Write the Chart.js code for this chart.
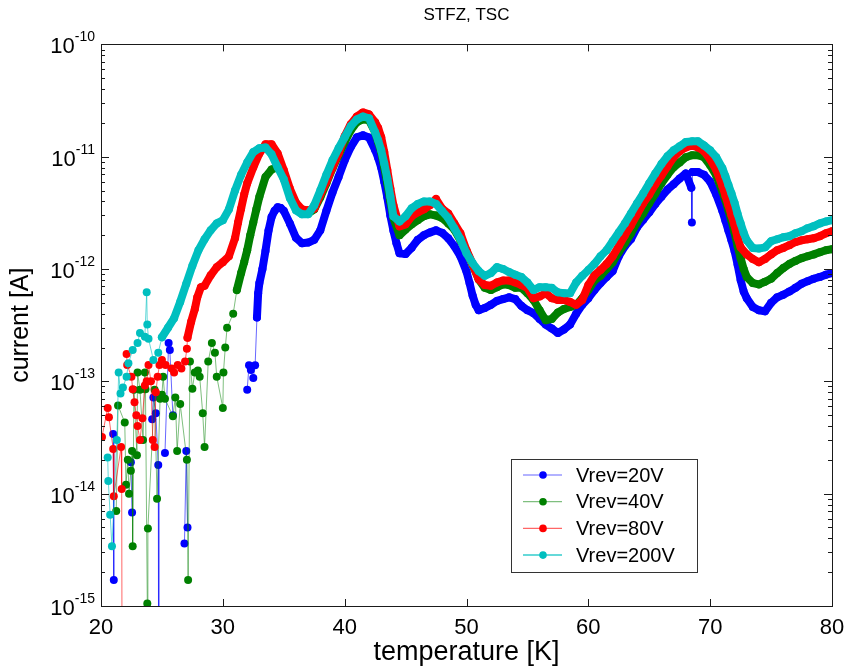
<!DOCTYPE html>
<html>
<head>
  <title>STFZ, TSC</title>
  <script src="https://cdn.jsdelivr.net/npm/chart.js"></script>
  <style>
    body { margin: 0; background: #fff; }
    #wrap { width: 846px; height: 666px; }
  </style>
</head>
<body>
  <div id="wrap"><canvas id="tscChart" width="846" height="666"></canvas></div>

  <script>
    // temperature [K] and current [A] for each reverse bias
    // null = no point (log of a non positive reading), 1e-17 = reading below the axis
    const tempV20 = [21.0, 21.05, 21.1, 22.45, 22.55, 22.6, 24.2, 24.3, 24.5, 24.7, 24.75, 24.8,
      25.25, 25.55, 25.65, 25.9, 26.2, 26.85, 27.0, 27.1, 27.2,
      32.0, 32.15, 32.3, 32.5, 32.65, 32.8, 32.9, 33.0, 33.25, 33.5, 33.75, 34.0, 34.25, 34.5, 34.75, 35.0, 35.5,
      36.0, 36.5, 37.0, 37.5, 38.0, 38.5, 39.0, 39.5, 40.0, 40.5, 41.0, 41.5, 42.0, 42.5, 42.75, 43.0, 43.25,
      43.5, 43.75, 44.0, 44.25, 44.5, 45.0, 45.5, 46.0, 46.5, 47.0, 47.5, 48.0, 48.5, 49.0, 49.5, 50.0, 50.25,
      50.5, 50.75, 51.0, 51.5, 52.0, 52.5, 53.0, 53.5, 54.0, 54.5, 55.0, 55.5, 56.0, 56.5, 57.0, 57.5, 58.0,
      58.5, 59.0, 59.5, 60.0, 60.5, 61.0, 61.5, 62.0, 62.5, 63.0, 63.5, 64.0, 64.5, 65.0, 65.5, 66.0, 66.5,
      67.0, 67.5, 68.0, 68.45, 68.5, 68.55, 69.0, 69.5, 70.0, 70.5, 71.0, 71.25, 71.5, 71.75, 72.0, 72.25,
      72.5, 72.75, 73.0, 73.5, 74.0, 74.5, 75.0, 75.5, 76.0, 76.5, 77.0, 77.5, 78.0, 78.5, 79.0, 79.5, 80.0];
    const currV20 = [3.4e-14, 1.7e-15, null, 1.9e-14, 6.8e-15, null, 4.6e-14, 7.2e-14, 5.2e-14, 1.8e-14, 1e-17, null,
      2.3e-14, 2.2e-13, 1.9e-13, 5.0e-14, null, 3.6e-15, 2.4e-14, 5.0e-15, null,
      8.4e-14, 1.39e-13, 1.26e-13, 1.07e-13, 1.39e-13, 3.7e-13, 6.1e-13, 7.5e-13, 1.0e-12, 1.45e-12, 2.2e-12,
      2.9e-12, 3.3e-12, 3.55e-12, 3.5e-12, 3.3e-12, 2.55e-12,
      1.9e-12, 1.7e-12, 1.72e-12, 1.82e-12, 2.21e-12, 3.3e-12, 4.8e-12, 6.6e-12, 9.3e-12, 1.22e-11, 1.49e-11,
      1.55e-11, 1.48e-11, 1.15e-11, 9.8e-12, 8.0e-12, 6.0e-12,
      4.35e-12, 3.0e-12, 2.2e-12, 1.7e-12, 1.38e-12, 1.36e-12, 1.55e-12, 1.82e-12, 2.0e-12, 2.12e-12, 2.21e-12,
      2.1e-12, 1.88e-12, 1.6e-12, 1.3e-12, 9.5e-13, 7.5e-13,
      5.8e-13, 4.8e-13, 4.3e-13, 4.5e-13, 4.8e-13, 5.2e-13, 5.4e-13, 5.6e-13, 5.4e-13, 4.7e-13, 4.3e-13, 4.05e-13,
      3.6e-13, 3.2e-13, 2.95e-13, 2.7e-13, 2.9e-13,
      3.2e-13, 4.0e-13, 4.8e-13, 5.5e-13, 6.5e-13, 7.5e-13, 8.5e-13, 9.6e-13, 1.3e-12, 1.6e-12, 1.85e-12, 2.35e-12,
      2.75e-12, 3.2e-12, 3.8e-12, 4.4e-12, 5.1e-12,
      5.7e-12, 6.4e-12, 7.1e-12, 5.3e-12, 2.6e-12, 7.3e-12, 7.3e-12, 6.9e-12, 6.0e-12, 4.6e-12, 3.3e-12, 2.7e-12,
      2.2e-12, 1.8e-12, 1.45e-12, 1.1e-12,
      8.0e-13, 6.3e-13, 5.5e-13, 4.6e-13, 4.3e-13, 4.2e-13, 5.0e-13, 5.6e-13, 5.9e-13, 6.3e-13, 6.8e-13, 7.4e-13,
      7.8e-13, 8.2e-13, 8.5e-13, 8.9e-13, 9.2e-13];

    const tempV40 = [21.25, 21.4, 21.95, 22.05, 22.2, 22.3, 22.45, 22.55, 22.6, 22.7, 22.95, 23.0, 23.2, 23.45,
      23.6, 23.65, 23.8, 23.85, 24.4, 24.6, 24.85, 25.0, 25.1, 25.25, 25.9, 26.1, 26.25, 26.5, 27.05, 27.15,
      27.3, 27.5, 27.7, 27.95, 28.1, 28.35, 28.5, 28.8, 29.1, 29.35, 29.5, 30.0, 30.05, 30.2, 30.35, 30.85, 31.15,
      31.5, 31.75, 32.0, 32.25, 32.5, 32.75, 33.0, 33.5, 34.0, 34.5, 35.0, 35.5, 36.0, 36.5, 37.0, 37.5, 38.0,
      38.5, 39.0, 39.5, 40.0, 40.5, 41.0, 41.5, 42.0, 42.5, 42.75, 43.0, 43.25, 43.5, 43.75, 44.0, 44.5, 45.0,
      45.5, 46.0, 46.5, 47.0, 47.5, 48.0, 48.5, 49.0, 49.5, 50.0, 50.5, 51.0, 51.5, 52.0, 52.5, 53.0, 53.5,
      54.0, 54.5, 55.0, 55.5, 56.0, 56.5, 57.0, 57.5, 58.0, 58.5, 59.0, 59.5, 60.0, 60.5, 61.0, 61.5, 62.0,
      62.5, 63.0, 63.5, 64.0, 64.5, 65.0, 65.5, 66.0, 66.5, 67.0, 67.5, 68.0, 68.5, 69.0, 69.5, 70.0, 70.5,
      71.0, 71.25, 71.5, 71.75, 72.0, 72.25, 72.5, 72.75, 73.0, 73.5, 74.0, 74.5, 75.0, 75.5, 76.0, 76.5,
      77.0, 77.5, 78.0, 78.5, 79.0, 79.5, 80.0];
    const currV40 = [7.0e-15, 6.1e-14, 4.3e-14, 1.2e-14, 2.0e-14, 1.0e-14, 1.6e-14, 2.4e-14, 3.4e-15, 8.4e-14,
      2.2e-14, 1.2e-13, 8.4e-14, 3.0e-14,
      1.2e-13, 8.5e-14, 1.05e-15, 4.9e-15, 8.4e-14, 9.0e-15, 7.0e-14, 7.6e-14, 1.1e-13, 7.0e-14, 4.9e-14, 7.2e-14,
      2.4e-14, 6.3e-14, 2.0e-14, 1.7e-15,
      1.5e-13, 8.6e-14, 1.2e-13, 1.25e-13, 1.1e-13, 5.2e-14, 2.6e-14, 1.5e-13, 2.2e-13, 1.8e-13, 1.1e-13, 5.8e-14,
      1.2e-13, 2.0e-13, 3.0e-13, 4.0e-13, 6.5e-13,
      9.2e-13, 1.15e-12, 1.47e-12, 2.0e-12, 2.6e-12, 3.4e-12, 4.4e-12, 6.6e-12, 7.7e-12, 8.05e-12, 7.0e-12, 4.7e-12,
      3.7e-12, 3.28e-12, 3.13e-12, 3.4e-12, 4.35e-12,
      5.8e-12, 7.9e-12, 1.03e-11, 1.35e-11, 1.72e-11, 2.03e-11, 2.15e-11, 2.11e-11, 1.65e-11, 1.35e-11, 1.1e-11,
      8.0e-12, 5.8e-12, 4.0e-12, 2.85e-12, 2.0e-12, 2.25e-12,
      2.5e-12, 2.72e-12, 2.95e-12, 3.07e-12, 3.0e-12, 2.85e-12, 2.55e-12, 2.25e-12, 1.8e-12, 1.44e-12, 1.09e-12,
      8.1e-13, 6.8e-13, 6.5e-13, 6.9e-13, 7.3e-13, 7.2e-13,
      6.8e-13, 6.8e-13, 6.1e-13, 5.3e-13, 4.3e-13, 3.5e-13, 3.6e-13, 4.1e-13, 4.4e-13, 4.6e-13, 4.8e-13, 5.5e-13,
      6.5e-13, 7.9e-13, 8.7e-13, 1.0e-12, 1.15e-12,
      1.41e-12, 1.7e-12, 2.08e-12, 2.6e-12, 3.13e-12, 3.85e-12, 4.7e-12, 5.8e-12, 6.9e-12, 8.05e-12, 8.9e-12, 9.9e-12,
      1.03e-11, 1.03e-11, 9.9e-12, 8.4e-12, 6.8e-12,
      4.9e-12, 4.1e-12, 3.33e-12, 2.7e-12, 2.12e-12, 1.6e-12, 1.25e-12, 1.0e-12, 8.5e-13, 7.5e-13, 7.3e-13, 7.7e-13,
      8.2e-13, 9.2e-13, 1.02e-12, 1.11e-12,
      1.18e-12, 1.25e-12, 1.3e-12, 1.35e-12, 1.41e-12, 1.47e-12, 1.5e-12];

    const tempV80 = [20.08, 20.55, 20.65, 21.0, 21.05, 21.65, 21.7, 21.75, 21.8, 22.1, 22.15, 22.5, 22.6, 22.75,
      22.9, 23.0, 23.2, 23.4, 23.6, 23.75, 23.9, 24.1, 24.25, 24.4, 24.5, 24.65, 24.8, 25.0, 25.3, 25.8, 26.0,
      26.3, 26.6, 26.9, 27.05, 27.1, 27.4, 27.7, 27.9, 28.2,
      28.5, 29.0, 29.5, 30.0, 30.5, 31.0, 31.25, 31.5, 31.75, 32.0, 32.5, 33.0, 33.5, 34.0, 34.5, 35.0, 35.5,
      36.0, 36.5, 37.0, 37.5, 38.0, 38.5, 39.0, 39.5, 40.0, 40.5, 41.0, 41.5, 42.0, 42.5, 42.75, 43.0, 43.25,
      43.5, 43.75, 44.0, 44.5, 45.0, 45.5, 46.0, 46.5, 47.0, 47.5, 48.0, 48.5, 49.0, 49.5, 50.0, 50.5, 51.0,
      51.5, 52.0, 52.5, 53.0, 53.5, 54.0, 54.5, 55.0, 55.5, 56.0, 56.5, 57.0, 57.5, 58.0, 58.5, 59.0, 59.5,
      60.0, 60.5, 61.0, 61.5, 62.0, 62.5, 63.0, 63.5, 64.0, 64.5, 65.0, 65.5, 66.0, 66.5, 67.0, 67.5, 68.0,
      68.5, 69.0, 69.5, 70.0, 70.5, 71.0, 71.25, 71.5, 71.75, 72.0, 72.25, 72.5, 73.0, 73.5, 74.0, 74.5, 75.0,
      75.5, 76.0, 76.5, 77.0, 77.5, 78.0, 78.5, 79.0, 79.5, 80.0];
    const currV80 = [3.2e-14, 5.8e-14, 4.8e-14, 2.5e-14, 9.5e-15, 2.6e-14, 1.1e-14, 1e-17, null, 1.75e-13, 1.4e-13,
      1.1e-13, 8.5e-14, 6.5e-14,
      5.0e-14, 4.0e-14, 3.0e-14, 4.7e-14, 9.2e-14, 1.0e-13, 1.4e-13, 1.0e-13, 3.0e-14, 2.6e-14, 8.0e-14, 1.1e-13,
      1.4e-13, 1.55e-13, 1.4e-13, 1.3e-13, 1.2e-13,
      1.4e-13, 1.3e-13, 1.5e-13, 1.95e-13, 2.45e-13, 3.4e-13, 4.4e-13, 5.6e-13, 6.9e-13,
      7.1e-13, 8.8e-13, 1.04e-12, 1.15e-12, 1.3e-12, 1.88e-12, 2.6e-12, 3.45e-12, 4.6e-12, 5.8e-12, 8.05e-12,
      1.07e-11, 1.29e-11, 1.29e-11, 1.07e-11, 7.6e-12, 5.2e-12,
      3.9e-12, 3.4e-12, 3.33e-12, 3.45e-12, 4.6e-12, 6.0e-12, 8.05e-12, 1.07e-11, 1.52e-11, 1.95e-11, 2.28e-11,
      2.48e-11, 2.38e-11, 2.03e-11, 1.8e-11, 1.49e-11, 1.1e-11,
      7.6e-12, 5.2e-12, 3.7e-12, 2.4e-12, 2.5e-12, 2.95e-12, 3.2e-12, 3.4e-12, 3.7e-12, 4.2e-12, 3.45e-12, 3.13e-12,
      2.55e-12, 2.08e-12, 1.47e-12, 1.11e-12, 8.1e-13,
      7.2e-13, 7.1e-13, 7.6e-13, 7.9e-13, 7.9e-13, 7.6e-13, 7.2e-13, 6.8e-13, 5.5e-13, 5.7e-13, 6.1e-13, 5.5e-13,
      5.3e-13, 5.3e-13, 5.1e-13, 4.8e-13, 5.3e-13,
      7.2e-13, 8.8e-13, 9.8e-13, 1.11e-12, 1.3e-12, 1.6e-12, 2.0e-12, 2.45e-12, 3.07e-12, 3.85e-12, 4.6e-12, 5.7e-12,
      6.8e-12, 8.2e-12, 9.9e-12, 1.12e-11, 1.21e-11,
      1.26e-11, 1.21e-11, 1.12e-11, 9.5e-12, 7.6e-12, 5.5e-12, 4.5e-12, 3.7e-12, 3.0e-12, 2.45e-12, 1.9e-12, 1.56e-12,
      1.35e-12, 1.23e-12, 1.15e-12, 1.23e-12, 1.35e-12,
      1.47e-12, 1.54e-12, 1.63e-12, 1.74e-12, 1.8e-12, 1.84e-12, 1.88e-12, 1.96e-12, 2.08e-12, 2.17e-12];

    const tempV200 = [20.55, 20.6, 20.75, 20.9, 21.3, 21.45, 21.6, 21.8, 22.1, 22.25, 22.6, 23.0, 23.2, 23.6,
      23.75, 23.8, 23.9, 24.3, 24.7,
      25.0, 25.5, 26.0, 26.5, 27.0, 27.5, 28.0, 28.5, 29.0, 29.5, 30.0, 30.5, 31.0, 31.5, 32.0, 32.5, 33.0,
      33.5, 34.0, 34.5, 35.0, 35.5, 36.0, 36.5, 37.0, 37.5, 38.0, 38.5, 39.0, 39.5, 40.0, 40.5, 41.0, 41.5,
      42.0, 42.5, 42.75, 43.0, 43.25, 43.5, 43.75, 44.0, 44.5, 45.0, 45.5, 46.0, 46.5, 47.0, 47.5, 48.0, 48.5,
      49.0, 49.5, 50.0, 50.5, 51.0, 51.5, 52.0, 52.5, 53.0, 53.5, 54.0, 54.5, 55.0, 55.5, 56.0, 56.5, 57.0,
      57.5, 58.0, 58.5, 59.0, 59.5, 60.0, 60.5, 61.0, 61.5, 62.0, 62.5, 63.0, 63.5, 64.0, 64.5, 65.0, 65.5,
      66.0, 66.5, 67.0, 67.5, 68.0, 68.5, 69.0, 69.5, 70.0, 70.5, 71.0, 71.25, 71.5, 71.75, 72.0, 72.25, 72.5,
      72.75, 73.0, 73.5, 74.0, 74.5, 75.0, 75.5, 76.0, 76.5, 77.0, 77.5, 78.0, 78.5, 79.0, 79.5, 80.0];
    const currV200 = [2.1e-14, 1.3e-14, 6.5e-15, 3.4e-15, 3.0e-14, 1.2e-13, 7.8e-14, 8.8e-14, 1.1e-13, 1.45e-13,
      1.9e-13, 2.2e-13, 2.7e-13, 2.5e-13,
      6.2e-13, 3.2e-13, 2.4e-13, 1.55e-13, 1.8e-13,
      2.47e-13, 3.0e-13, 3.65e-13, 5.1e-13, 7.4e-13, 1.07e-12, 1.47e-12, 1.84e-12, 2.21e-12, 2.55e-12, 2.72e-12,
      3.4e-12, 5.0e-12, 6.9e-12, 8.9e-12, 1.1e-11, 1.19e-11,
      1.21e-11, 1.05e-11, 8.05e-12, 6.3e-12, 4.3e-12, 3.33e-12, 3.07e-12, 3.07e-12, 3.7e-12, 5.0e-12, 6.9e-12,
      9.3e-12, 1.19e-11, 1.49e-11, 1.87e-11, 2.15e-11, 2.28e-11,
      2.2e-11, 1.65e-11, 1.4e-11, 1.14e-11, 8.7e-12, 6.4e-12, 4.4e-12, 2.95e-12, 2.65e-12, 2.95e-12, 3.48e-12,
      3.8e-12, 4.0e-12, 4.0e-12, 3.8e-12, 3.28e-12, 2.85e-12,
      2.31e-12, 1.84e-12, 1.38e-12, 1.13e-12, 9.6e-13, 8.7e-13, 9.2e-13, 1.04e-12, 1.0e-12, 9.4e-13, 8.9e-13,
      8.5e-13, 7.6e-13, 6.5e-13, 6.9e-13, 6.9e-13, 6.8e-13,
      6.2e-13, 6.1e-13, 6.1e-13, 7.6e-13, 8.7e-13, 9.8e-13, 1.11e-12, 1.3e-12, 1.47e-12, 1.77e-12, 2.12e-12,
      2.55e-12, 3.13e-12, 3.85e-12, 4.7e-12, 5.8e-12, 7.1e-12,
      8.6e-12, 1.01e-11, 1.14e-11, 1.24e-11, 1.35e-11, 1.37e-11, 1.37e-11, 1.26e-11, 1.14e-11, 9.9e-12, 7.9e-12,
      6.7e-12, 5.6e-12, 4.7e-12, 3.9e-12, 3.1e-12, 2.55e-12,
      2.1e-12, 1.8e-12, 1.54e-12, 1.52e-12, 1.56e-12, 1.77e-12, 1.84e-12, 1.92e-12, 1.96e-12, 2.08e-12, 2.17e-12,
      2.31e-12, 2.41e-12, 2.55e-12, 2.65e-12, 2.72e-12];

    const seriesLabels = ["Vrev=20V", "Vrev=40V", "Vrev=80V", "Vrev=200V"];
    const xTickValues = [20, 30, 40, 50, 60, 70, 80];
    const xTickLabels = ["20", "30", "40", "50", "60", "70", "80"];
    const yTickValues = [1e-15, 1e-14, 1e-13, 1e-12, 1e-11, 1e-10];
    const yTickExponents = ["-15", "-14", "-13", "-12", "-11", "-10"];

    const FONT = "'Liberation Sans', Arial, sans-serif";
    Chart.defaults.font.family = FONT;
    Chart.defaults.color = "#000";

    function toPoints(t, c) {
      return t.map((x, i) => ({ x: x, y: c[i] }));
    }

    // past "denseFrom" the recording is so dense that the dots merge into a band
    function series(label, t, c, dot, line, denseFrom, order) {
      const dense = ctx => ctx.p0.parsed.x >= denseFrom && ctx.p1.parsed.x - ctx.p0.parsed.x > 0.1;
      return {
        label: label,
        data: toPoints(t, c),
        borderColor: line,
        backgroundColor: dot,
        pointBackgroundColor: dot,
        borderWidth: 1,
        pointRadius: 4,
        pointBorderWidth: 0,
        pointHoverRadius: 4,
        borderCapStyle: "round",
        borderJoinStyle: "round",
        spanGaps: false,
        tension: 0,
        order: order,
        segment: {
          borderWidth: ctx => dense(ctx) ? 8 : 1,
          borderColor: ctx => dense(ctx) ? dot : line
        }
      };
    }

    // frame with inward ticks on all four sides, MATLAB style decade labels and the boxed legend
    const matlabAxes = {
      id: "matlabAxes",
      afterDatasetsDraw(chart) {
        const { ctx, chartArea: a, scales } = chart;
        const x = scales.x, y = scales.y;
        ctx.save();
        ctx.strokeStyle = "#1a1a1a";
        ctx.lineWidth = 1;
        ctx.beginPath();
        xTickValues.forEach(v => {
          const px = Math.round(x.getPixelForValue(v)) + 0.5;
          ctx.moveTo(px, a.bottom); ctx.lineTo(px, a.bottom - 7);
          ctx.moveTo(px, a.top); ctx.lineTo(px, a.top + 7);
        });
        yTickValues.forEach((v, i) => {
          for (let m = 1; m < 10; m++) {
            if (m > 1 && i === yTickValues.length - 1) break;
            const py = Math.round(y.getPixelForValue(v * m)) + 0.5;
            const len = m === 1 ? 8 : 4;
            ctx.moveTo(a.left, py); ctx.lineTo(a.left + len, py);
            ctx.moveTo(a.right, py); ctx.lineTo(a.right - len, py);
          }
        });
        ctx.stroke();
        ctx.strokeRect(Math.round(a.left) + 0.5, Math.round(a.top) + 0.5,
          Math.round(a.right - a.left), Math.round(a.bottom - a.top));

        // y tick labels: 10 with a raised exponent
        ctx.fillStyle = "#000";
        ctx.textBaseline = "middle";
        ctx.textAlign = "right";
        yTickValues.forEach((v, i) => {
          const py = y.getPixelForValue(v);
          ctx.font = "14px " + FONT;
          const ew = ctx.measureText(yTickExponents[i]).width;
          ctx.fillText(yTickExponents[i], a.left - 6, py - 7);
          ctx.font = "22px " + FONT;
          ctx.fillText("10", a.left - 6 - ew, py + 3);
        });

        // legend
        const box = { left: 511, top: 459, width: 186, height: 113 };
        ctx.fillStyle = "#fff";
        ctx.fillRect(box.left, box.top, box.width, box.height);
        ctx.strokeStyle = "#333";
        ctx.strokeRect(box.left + 0.5, box.top + 0.5, box.width, box.height);
        ctx.font = "20px " + FONT;
        ctx.textBaseline = "middle";
        ctx.textAlign = "left";
        chart.data.datasets.forEach((ds, i) => {
          const cy = box.top + 16 + i * 26.7;
          ctx.strokeStyle = ds.borderColor;
          ctx.lineWidth = i === 3 ? 2 : 1.2;
          ctx.beginPath();
          ctx.moveTo(box.left + 12, cy); ctx.lineTo(box.left + 51, cy);
          ctx.stroke();
          ctx.fillStyle = ds.pointBackgroundColor;
          ctx.beginPath();
          ctx.arc(box.left + 32, cy, 3.8, 0, Math.PI * 2);
          ctx.fill();
          ctx.fillStyle = "#000";
          ctx.fillText(ds.label, box.left + 65, cy + 1);
        });
        ctx.restore();
      }
    };

    new Chart(document.getElementById("tscChart"), {
      type: "line",
      data: {
        datasets: [
          series(seriesLabels[0], tempV20, currV20, "#0000ff", "rgba(0,0,255,0.6)", 32.8, 3),
          series(seriesLabels[1], tempV40, currV40, "#008000", "rgba(0,128,0,0.5)", 31.15, 2),
          series(seriesLabels[2], tempV80, currV80, "#ff0000", "rgba(255,0,0,0.6)", 27.0, 1),
          series(seriesLabels[3], tempV200, currV200, "#00bfbf", "rgba(0,191,191,0.6)", 25.0, 0)
        ]
      },
      options: {
        responsive: false,
        animation: false,
        devicePixelRatio: 1,
        events: [],
        layout: { padding: { left: 0, right: 14, top: 0, bottom: 0 } },
        plugins: {
          legend: { display: false },
          tooltip: { enabled: false },
          title: {
            display: true,
            fullSize: false,
            text: "STFZ, TSC",
            color: "#000",
            font: { size: 17, weight: "normal" },
            padding: { top: 5, bottom: 19 }
          }
        },
        scales: {
          x: {
            type: "linear",
            min: 20,
            max: 80,
            afterBuildTicks: axis => { axis.ticks = xTickValues.map(v => ({ value: v })); },
            afterFit: axis => { axis.height = 60; axis.paddingLeft = 0; axis.paddingRight = 0; },
            grid: { display: false, drawTicks: false },
            border: { display: false },
            ticks: {
              autoSkip: false,
              maxRotation: 0,
              padding: 9,
              font: { size: 22 },
              color: "#000",
              callback: (v, i) => xTickLabels[i]
            },
            title: {
              display: true,
              text: "temperature [K]",
              font: { size: 27, lineHeight: 1 },
              color: "#000",
              padding: { top: 0, bottom: 0 }
            }
          },
          y: {
            type: "logarithmic",
            min: 1e-15,
            max: 1e-10,
            afterBuildTicks: axis => { axis.ticks = yTickValues.map(v => ({ value: v })); },
            afterFit: axis => { axis.width = 101; axis.paddingTop = 0; axis.paddingBottom = 0; },
            grid: { display: false, drawTicks: false },
            border: { display: false },
            ticks: { display: false },
            title: {
              display: true,
              text: "current [A]",
              font: { size: 25, lineHeight: 1 },
              color: "#000",
              padding: { top: 9, bottom: 0 }
            }
          }
        }
      },
      plugins: [matlabAxes]
    });
  </script>
</body>
</html>
